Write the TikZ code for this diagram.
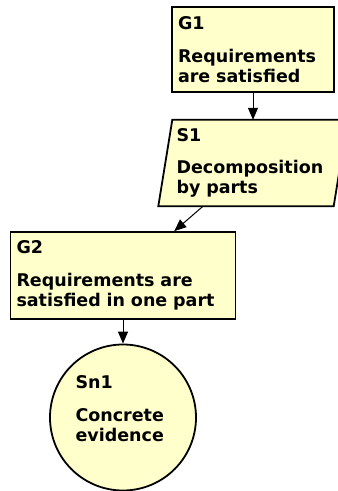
\documentclass[tikz,border=0pt]{standalone}
\usepackage{fontspec}
\setmainfont{DejaVu Sans}
\usetikzlibrary{arrows.meta,positioning,shapes.geometric,backgrounds}
\definecolor{GSNfill}{RGB}{255,255,204}

\begin{document}
\begin{tikzpicture}[x=1pt, y=-1pt, every node/.style={font=\bfseries\fontsize{17.5}{20}\selectfont}, goal/.style={draw,line width=1.8pt,fill=GSNfill,rectangle,align=left,inner xsep=6pt,inner ysep=0pt}, strat/.style={rectangle,align=left,inner xsep=18pt,text width=153pt,minimum height=86pt}, sol/.style={draw,circle,line width=1.8pt,fill=GSNfill,align=left,text width=95pt,minimum size=146pt,inner sep=0pt,text depth=70.5pt}, arr/.style={-{Triangle[length=12pt,width=10pt]},line width=1pt}]
\useasboundingbox (0,0) rectangle (338,491);
\node[goal,text width=150pt,minimum height=85pt] (g1) at (253,49.5) {G1\\[12.5pt]Requirements\\are satisfied};
\node[strat] (s1) at (253,163) {S1\\[12.5pt]Decomposition\\by parts};
\node[goal,text width=213pt,minimum height=87pt] (g2) at (123,275.5) {G2\\[12.5pt]Requirements are\\satisfied in one part};
\node[sol] (sn1) at (123,417.5) {Sn1\\[12.5pt]Concrete\\evidence};
% strategy outline behind its text
\begin{scope}[on background layer]
\draw[line width=1.8pt,fill=GSNfill] ([xshift=14pt]s1.north west) -- (s1.north east) -- ([xshift=-14pt]s1.south east) -- (s1.south west) -- cycle;
\end{scope}
\draw[arr] (g1) -- (s1); \draw[arr] (s1) -- (g2); \draw[arr] (g2) -- (sn1);
\end{tikzpicture}
\end{document}
